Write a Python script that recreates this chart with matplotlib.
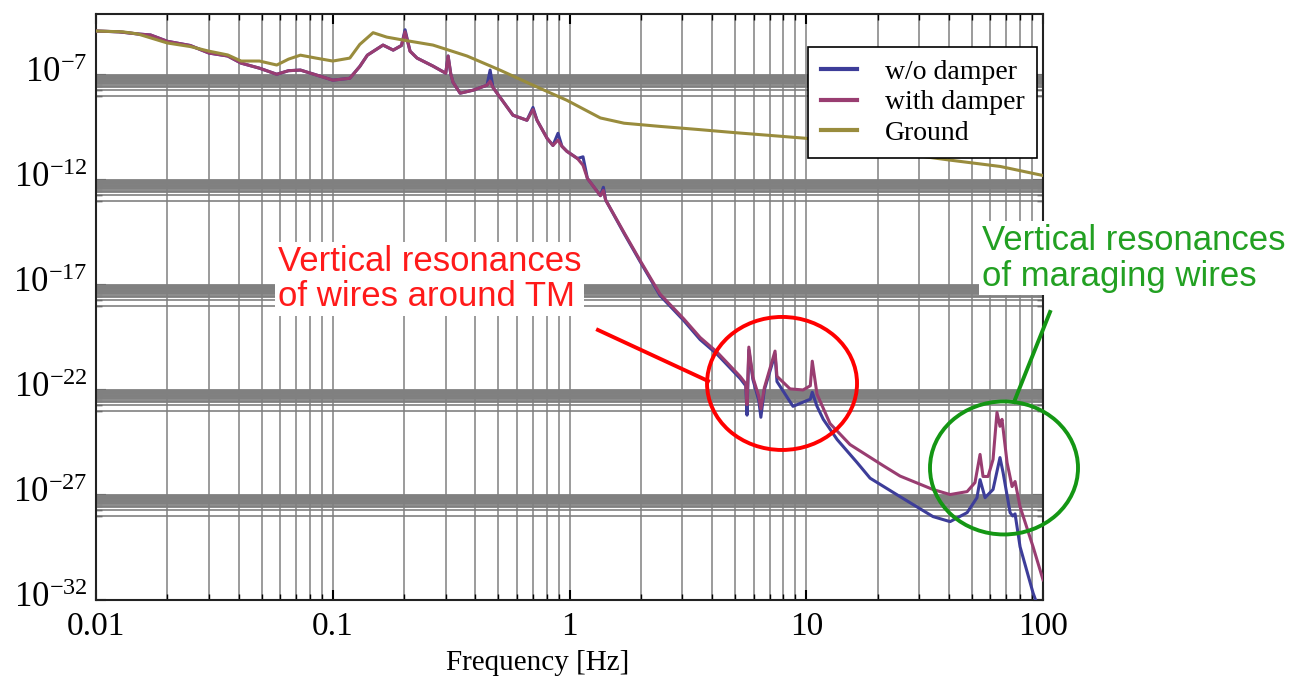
import numpy as np
import matplotlib
matplotlib.use('Agg')
import matplotlib.pyplot as plt
import matplotlib.transforms as mtransforms
from matplotlib.ticker import FixedLocator, NullFormatter
from matplotlib.patches import Ellipse

# Suspension transfer spectra (frequency in Hz, amplitude as log10)
freq_with = [0.010, 0.0125, 0.015, 0.017, 0.020, 0.025, 0.030, 0.036, 0.041, 0.049,
             0.058, 0.065, 0.073, 0.085, 0.100, 0.118, 0.130, 0.140, 0.163, 0.180,
             0.195, 0.202, 0.212, 0.227, 0.265, 0.300, 0.307, 0.315, 0.322, 0.345,
             0.391, 0.448, 0.462, 0.475, 0.577, 0.661, 0.701, 0.729, 0.804, 0.851,
             0.894, 0.929, 0.975, 1.08, 1.14, 1.19, 1.35, 1.39, 1.42, 1.71,
             1.99, 2.41, 3.04, 3.56, 4.20, 5.25, 5.55, 5.62, 5.72, 5.95,
             6.30, 6.43, 6.65, 7.38, 7.52, 8.54, 9.69, 10.4, 10.6, 11.1,
             12.6, 15.3, 21.1, 24.9, 34.3, 40.5, 47.8, 51.6, 54.2, 55.8,
             58.6, 61.5, 63.9, 65.8, 67.1, 70.5, 74.0, 76.2, 80.0, 90.8, 100]
amp_with = [-4.91, -4.95, -5.05, -5.10, -5.40, -5.60, -5.96, -6.10, -6.44, -6.68,
            -6.97, -6.80, -6.77, -7.00, -7.25, -7.16, -6.60, -6.06, -5.58, -5.82,
            -5.60, -4.95, -5.87, -6.20, -6.58, -6.92, -6.10, -6.95, -7.35, -7.87,
            -7.73, -7.49, -7.30, -7.60, -8.92, -9.16, -8.65, -9.16, -10.02, -10.36,
            -10.10, -10.40, -10.64, -10.98, -11.30, -11.93, -12.75, -12.50, -12.95, -14.56,
            -15.85, -17.43, -18.62, -19.50, -20.20, -21.35, -21.70, -22.70, -19.96, -21.40,
            -22.30, -22.90, -21.90, -20.15, -21.35, -21.95, -22.00, -21.80, -20.63, -22.20,
            -23.60, -24.60, -25.60, -26.10, -26.74, -26.98, -26.84, -26.41, -25.07, -26.12,
            -26.12, -25.31, -23.07, -23.73, -23.40, -25.46, -26.60, -26.36, -27.56, -29.47, -31.04]

freq_wo = [0.010, 0.0125, 0.015, 0.017, 0.020, 0.025, 0.030, 0.036, 0.041, 0.049,
           0.058, 0.065, 0.073, 0.085, 0.100, 0.118, 0.130, 0.140, 0.163, 0.180,
           0.195, 0.202, 0.212, 0.227, 0.265, 0.300, 0.307, 0.315, 0.322, 0.345,
           0.391, 0.448, 0.462, 0.475, 0.577, 0.661, 0.701, 0.729, 0.804, 0.851,
           0.894, 0.929, 0.975, 1.08, 1.14, 1.19, 1.35, 1.39, 1.42, 1.71,
           1.99, 2.41, 3.04, 3.56, 4.20, 5.25, 5.55, 5.62, 5.72, 5.95,
           6.30, 6.43, 6.65, 7.38, 7.52, 8.79, 10.4, 10.6, 11.1, 11.8,
           13.5, 16.4, 18.6, 24.9, 34.3, 40.5, 47.8, 52.6, 54.2, 56.9,
           61.5, 65.8, 67.8, 72.6, 74.5, 76.2, 80.0, 90.8, 100]
amp_wo = [-4.91, -4.95, -5.05, -5.10, -5.40, -5.60, -5.96, -6.10, -6.44, -6.68,
          -6.97, -6.80, -6.77, -7.00, -7.25, -7.16, -6.60, -6.06, -5.58, -5.82,
          -5.60, -4.85, -5.87, -6.20, -6.58, -6.92, -6.10, -6.95, -7.35, -7.87,
          -7.73, -7.49, -6.77, -7.60, -8.92, -9.16, -8.55, -9.16, -10.02, -10.36,
          -9.78, -10.40, -10.64, -10.98, -10.90, -11.93, -12.75, -12.35, -12.95, -14.60,
          -15.90, -17.50, -18.70, -19.60, -20.30, -21.45, -21.80, -23.20, -20.10, -21.50,
          -22.50, -23.30, -22.00, -20.30, -21.60, -22.78, -22.44, -22.11, -22.78, -23.40,
          -24.36, -25.46, -26.20, -27.08, -28.03, -28.27, -27.84, -27.13, -26.27, -27.13,
          -26.74, -25.22, -25.93, -27.84, -28.00, -27.90, -29.47, -31.67, -33.00]

freq_ground = [0.010, 0.013, 0.015, 0.020, 0.025, 0.030, 0.036, 0.041, 0.049, 0.058,
               0.065, 0.073, 0.085, 0.100, 0.118, 0.130, 0.148, 0.169, 0.198, 0.265,
               0.369, 0.508, 0.701, 0.975, 1.35, 1.70, 2.40, 3.50, 5.00, 7.00,
               10.0, 15.0, 25.0, 40.0, 66.0, 100]
amp_ground = [-4.91, -4.95, -5.05, -5.48, -5.65, -5.87, -6.05, -6.34, -6.34, -6.53,
              -6.25, -6.06, -6.20, -6.34, -6.20, -5.55, -4.99, -5.20, -5.34, -5.58,
              -6.10, -6.77, -7.49, -8.21, -9.05, -9.30, -9.45, -9.60, -9.75, -9.88,
              -10.02, -10.35, -10.74, -11.05, -11.36, -11.79]

series_labels = ['w/o damper', 'with damper', 'Ground']
series_colors = ['#3d3d99', '#993d71', '#998c3d']

x_ticks = [0.01, 0.1, 1, 10, 100]
x_tick_labels = ['0.01', '0.1', '1', '10', '100']
y_exps = [-32, -27, -22, -17, -12, -7]

plt.rcParams['font.family'] = ['Liberation Serif', 'DejaVu Serif']
plt.rcParams['mathtext.fontset'] = 'custom'
plt.rcParams['mathtext.rm'] = 'Liberation Serif'
plt.rcParams['mathtext.it'] = 'Liberation Serif:italic'

fig = plt.figure(figsize=(12.96, 6.86), dpi=100)
ax = fig.add_axes([0.0741, 0.1254, 0.7307, 0.8542])

# Curves, drawn in the order of the legend
for f, a, lab, col in zip([freq_wo, freq_with, freq_ground],
                          [amp_wo, amp_with, amp_ground],
                          series_labels, series_colors):
    ax.plot(f, 10.0 ** np.array(a), color=col, lw=2.2, label=lab, zorder=3)

ax.set_xscale('log')
ax.set_yscale('log')
ax.set_xlim(0.01, 100)
ax.set_ylim(1e-32, 10 ** -4.1)

# Ticks: labelled every 5 decades on y, with a decade of minor lines under each
y_minor = [k * 10.0 ** (e - 1) for e in y_exps if e > -32 for k in range(1, 10)]
ax.xaxis.set_major_locator(FixedLocator(x_ticks))
ax.xaxis.set_minor_locator(FixedLocator([k * 10.0 ** e for e in range(-2, 2) for k in range(2, 10)]))
ax.set_xticklabels(x_tick_labels)
ax.xaxis.set_minor_formatter(NullFormatter())
ax.yaxis.set_major_locator(FixedLocator([10.0 ** e for e in y_exps]))
ax.yaxis.set_minor_locator(FixedLocator(y_minor))
ax.set_yticklabels([r'$10^{%d}$' % e for e in y_exps])
ax.yaxis.set_minor_formatter(NullFormatter())

# Grid: vertical lines through the axis grid, horizontal ones by hand so the
# dense part under each labelled decade merges into a solid band
ax.grid(True, axis='x', which='both', color='#8a8a8a', lw=1.2)
ax.set_axisbelow(True)
for e in y_exps[1:]:
    ax.axhline(10.0 ** e, color='#808080', lw=2.0, zorder=0.6)
    for k in range(1, 10):
        ax.axhline(k * 10.0 ** (e - 1), color='#808080', lw=2.0 if k >= 3 else 1.2, zorder=0.6)

ax.tick_params(which='both', direction='in', top=True, right=True, color='black', labelsize=24)
ax.tick_params(axis='y', labelsize=25)
ax.tick_params(which='major', length=7, width=1.5)
ax.tick_params(which='minor', length=4, width=1.0)
ax.tick_params(axis='x', pad=8)
ax.tick_params(axis='y', pad=6)
for s in ax.spines.values():
    s.set_color('#222222')
    s.set_linewidth(1.5)

# y labels sit a little above their tick, as in the original
shift = mtransforms.ScaledTranslation(0, 4 / 72, fig.dpi_scale_trans)
for lab in ax.get_yticklabels():
    lab.set_transform(lab.get_transform() + shift)

ax.set_xlabel('Frequency [Hz]', fontsize=21)
ax.xaxis.set_label_coords(0.466, -0.085)

leg = ax.legend(loc='upper right', bbox_to_anchor=(0.9937, 0.9437), borderaxespad=0,
                fontsize=20, fancybox=False, framealpha=1, edgecolor='black',
                handlelength=1.3, handletextpad=1.0, labelspacing=0.18, borderpad=0.45)
leg.get_frame().set_linewidth(1.2)
for ln in leg.get_lines():
    ln.set_linewidth(3)

# Annotations
ax.text(0.192, 0.548, 'Vertical resonances\nof wires around TM', transform=ax.transAxes,
        color='#ff1a1a', fontsize=25, family='Liberation Sans', ha='left', va='center',
        linespacing=1.1, bbox=dict(facecolor='white', edgecolor='none', pad=2), zorder=5)
ax.plot([0.530, 0.6463], [0.4608, 0.3737], transform=ax.transAxes, color='#ff0000', lw=2.8, zorder=6)
ax.add_patch(Ellipse((0.7244, 0.3695), 0.1584, 0.227, transform=ax.transAxes,
                     fill=False, edgecolor='#ff0000', lw=2.8, zorder=6))

ax.text(0.9355, 0.583, 'Vertical resonances\nof maraging wires', transform=ax.transAxes,
        color='#22a022', fontsize=25, family='Liberation Sans', ha='left', va='center',
        linespacing=1.1, bbox=dict(facecolor='white', edgecolor='none', pad=2),
        zorder=5, clip_on=False)
ax.plot([1.0074, 0.9694], [0.4915, 0.3379], transform=ax.transAxes, color='#149614', lw=2.8,
        zorder=6, clip_on=False)
ax.add_patch(Ellipse((0.9588, 0.2253), 0.1563, 0.227, transform=ax.transAxes,
                     fill=False, edgecolor='#149614', lw=2.8, zorder=6, clip_on=False))

fig.savefig('out.png', dpi=100)
